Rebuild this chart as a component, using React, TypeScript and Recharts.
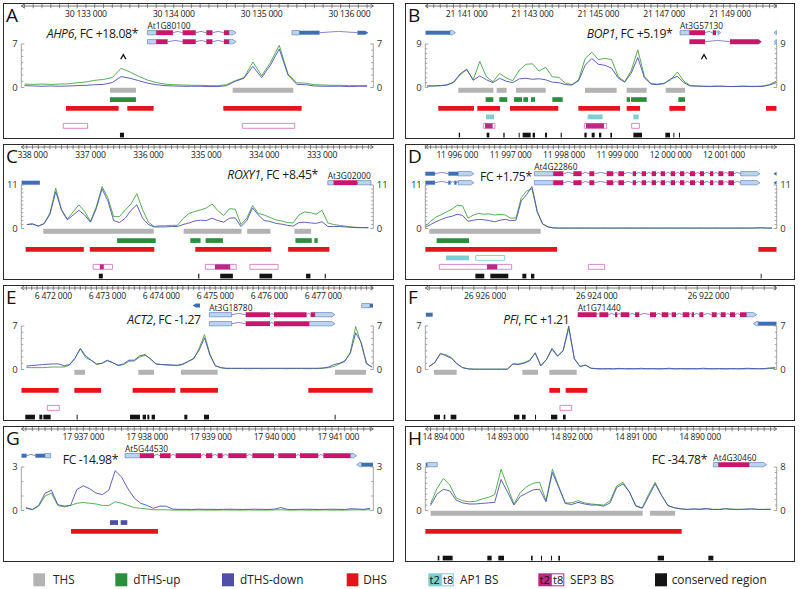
import React from "react";
import {
  ComposedChart,
  Line,
  XAxis,
  YAxis,
  ReferenceArea,
  ReferenceLine,
  ReferenceDot,
} from "recharts";

type Span = [number, number];
type Exon = [number, number, string, string?];
type Gene = { row: number; exons: Exon[]; label?: string };

// ---------------- A : AHP6 ----------------
const A_RANGE: Span = [30132264, 30136271];
const A_TICKS = [30133000, 30134000, 30135000, 30136000];
const A_COV_START = 30132300;
const A_COV_STEP = 100;
const A_GREEN = [
  0.55, 0.5, 0.55, 0.5, 0.55, 0.6, 0.75, 0.9, 1.15, 1.3,
  1.6, 3.1, 2.5, 1.8, 1.2, 0.8, 0.55, 0.45, 0.4, 0.35,
  0.35, 0.3, 0.3, 0.45, 1.1, 1.6, 4.1, 1.9, 4.0, 6.8,
  2.2, 0.75, 0.7, 0.45, 0.4, 0.35, 0.35, 0.3, 0.3, 0.3,
];
const A_BLUE = [
  0.3, 0.25, 0.2, 0.25, 0.2, 0.25, 0.3, 0.35, 0.45, 0.5,
  0.8, 1.75, 1.5, 1.1, 0.7, 0.45, 0.3, 0.25, 0.2, 0.2,
  0.2, 0.15, 0.15, 0.3, 1.0, 1.5, 3.4, 1.6, 3.6, 6.2,
  2.0, 0.5, 0.45, 0.25, 0.2, 0.2, 0.2, 0.15, 0.2, 0.2,
];
const A_THS: Span[] = [[30133273, 30133569], [30134670, 30135360]];
const A_UP: Span[] = [[30133273, 30133569]];
const A_DHS: Span[] = [[30132772, 30133372], [30133471, 30133770], [30134564, 30135455]];
const A_SEP3_OPEN: Span[] = [[30132742, 30133019], [30134780, 30135376]];
const A_CONS: Span[] = [[30133387, 30133433]];
const A_CARETS = [30133425];
const A_GENES: Gene[] = [
  { row: 1, label: "At1G80100", exons: [[30133700, 30133800, "u"], [30133800, 30133990, "c"], [30134100, 30134250, "c"], [30134370, 30134440, "c"], [30134570, 30134630, "c"], [30134630, 30134710, "u", "R"]] },
  { row: 2, exons: [[30133700, 30133800, "u"], [30133800, 30133930, "c"], [30134100, 30134250, "c"], [30134370, 30134440, "c"], [30134570, 30134630, "c"], [30134630, 30134710, "u", "R"]] },
  { row: 1, exons: [[30135345, 30135430, "u"], [30135430, 30135660, "o"], [30136090, 30136215, "o", "R"]] },
];

// ---------------- B : BOP1 ----------------
const B_RANGE: Span = [21139744, 21150418];
const B_TICKS = [21141000, 21143000, 21145000, 21147000, 21149000];
const B_COV_START = 21139800;
const B_COV_STEP = 200;
const B_GREEN = [
  0.3, 0.3, 0.35, 0.5, 1.0, 2.6, 3.7, 1.6, 5.4, 2.2,
  1.2, 2.9, 2.0, 1.4, 3.6, 4.8, 4.9, 3.4, 4.2, 2.2,
  2.1, 0.9, 0.6, 1.6, 6.0, 7.3, 5.8, 6.0, 5.8, 2.3,
  1.2, 3.5, 7.8, 2.3, 0.8, 0.7, 0.9, 1.6, 3.2, 1.3,
  0.4, 0.3, 0.25, 0.25, 0.3, 0.25, 0.2, 0.25, 0.3, 0.25,
  0.25, 0.3, 0.6, 1.3,
];
const B_BLUE = [
  0.3, 0.35, 0.4, 0.55, 1.1, 2.8, 3.8, 1.5, 2.4, 1.6,
  1.0, 1.9, 1.3, 1.0, 1.8, 1.9, 1.7, 1.8, 1.6, 1.1,
  1.0, 0.6, 0.5, 1.4, 4.6, 6.0, 4.8, 4.6, 4.0, 2.0,
  1.1, 3.0, 6.2, 2.0, 0.7, 0.6, 0.8, 1.8, 2.3, 1.0,
  0.3, 0.3, 0.25, 0.2, 0.25, 0.25, 0.2, 0.2, 0.25, 0.2,
  0.2, 0.25, 0.5, 1.0,
];
const B_THS: Span[] = [[21140747, 21141810], [21141911, 21142215], [21142499, 21143400], [21144595, 21145557], [21145861, 21146469], [21147046, 21147633]];
const B_UP: Span[] = [[21141577, 21141810], [21141992, 21142235], [21142438, 21142681], [21142722, 21142863], [21142955, 21143076], [21143603, 21143917], [21145861, 21145962], [21145993, 21146469], [21147431, 21147633]];
const B_DHS: Span[] = [[21140139, 21141223], [21141324, 21142013], [21142317, 21143785], [21144393, 21145658], [21145861, 21146266], [21147157, 21147643], [21150094, 21150410]];
const B_AP1: Span[] = [[21141587, 21141830], [21144676, 21145132], [21146064, 21146226]];
const B_SEP3_OPEN: Span[] = [[21141506, 21141861], [21144575, 21145253], [21146013, 21146246]];
const B_SEP3: Span[] = [[21141557, 21141790], [21144625, 21145172]];
const B_CONS: Span[] = [[21140760, 21140800], [21141608, 21141689], [21142114, 21142154], [21142580, 21142610], [21142701, 21142944], [21143005, 21143076], [21143380, 21143441], [21143856, 21143890], [21144575, 21144646], [21144798, 21144889], [21145020, 21145091], [21145365, 21145415], [21146064, 21146327], [21147036, 21147177], [21147279, 21147309], [21147451, 21147481]];
const B_CARETS = [21148210];
const B_GENES: Gene[] = [
  { row: 1, exons: [[21139750, 21140494, "o"], [21140494, 21140660, "u", "R"]] },
  { row: 1, label: "At3G57130", exons: [[21147481, 21147765, "u"], [21147765, 21148241, "c"], [21148474, 21148575, "c"], [21148640, 21148717, "u", "R"]] },
  { row: 2, exons: [[21147765, 21148241, "c"], [21149000, 21149962, "c", "R"]] },
  { row: 1, exons: [[21150337, 21150410, "u", "L"]] },
  { row: 2, exons: [[21150337, 21150410, "u", "L"]] },
];

// ---------------- C : ROXY1 (reverse strand) ----------------
const C_RANGE: Span = [332115, 338195];
const C_TICKS = [333000, 334000, 335000, 336000, 337000, 338000];
const C_COV_START = 338100;
const C_COV_STEP = -100;
const C_GREEN = [
  1.0, 1.2, 0.6, 1.3, 3.9, 10.2, 4.8, 2.4, 4.2, 6.0,
  4.3, 1.8, 5.5, 10.6, 7.8, 3.0, 3.0, 4.7, 6.2, 8.8,
  4.8, 1.6, 0.5, 0.7, 0.7, 0.8, 0.8, 2.5, 3.8, 4.3,
  4.7, 5.2, 6.2, 4.5, 3.3, 5.0, 4.9, 1.0, 2.6, 5.8,
  3.8, 3.4, 2.8, 2.2, 1.9, 1.5, 1.4, 3.4, 4.2, 4.0,
  3.6, 4.6, 1.4, 1.0, 0.8, 0.6, 0.4, 0.3, 0.25, 0.2,
];
const C_BLUE = [
  1.0, 1.1, 0.6, 1.2, 3.6, 9.3, 4.6, 2.2, 3.4, 4.6,
  3.4, 1.6, 5.0, 10.0, 7.0, 2.0, 1.5, 2.6, 4.6, 6.0,
  2.6, 1.0, 0.4, 0.4, 0.4, 0.5, 0.5, 1.0, 1.4, 1.9,
  2.1, 2.0, 2.6, 2.0, 1.6, 2.6, 2.7, 0.5, 2.0, 5.2,
  3.4, 2.0, 1.8, 1.3, 1.1, 0.8, 0.6, 1.5, 1.6, 1.4,
  1.3, 1.7, 0.5, 0.5, 0.5, 0.4, 0.3, 0.2, 0.2, 0.2,
];
const C_THS: Span[] = [[337816, 335908], [335391, 334391], [334293, 333891], [333477, 333190]];
const C_UP: Span[] = [[336540, 335874], [335276, 335098], [335012, 334713], [333460, 333178], [333132, 333075]];
const C_DHS: Span[] = [[338121, 337115], [337012, 335897], [335190, 333879], [333586, 332874]];
const C_SEP3_OPEN: Span[] = [[336954, 336621], [335017, 334483], [334247, 333759]];
const C_SEP3: Span[] = [[336839, 336770], [334851, 334586]];
const C_CONS: Span[] = [[336856, 336787], [335140, 335120], [334759, 334540], [334081, 333862], [333276, 333201], [332954, 332935]];
const C_GENES: Gene[] = [
  { row: 2, exons: [[338190, 337874, "o"]] },
  { row: 2, label: "At3G02000", exons: [[332902, 332799, "u"], [332799, 332385, "c"], [332385, 332155, "u"]] },
];

// ---------------- D ----------------
const D_RANGE: Span = [11995400, 12001988];
const D_TICKS = [11996000, 11997000, 11998000, 11999000, 12000000, 12001000];
const D_COV_START = 11995400;
const D_COV_STEP = 100;
const D_GREEN = [
  0.6, 1.8, 2.9, 3.5, 4.2, 4.9, 5.9, 5.7, 2.6, 3.4,
  3.8, 3.6, 3.7, 3.4, 3.6, 3.4, 2.6, 2.7, 7.8, 9.5,
  10.0, 4.0, 1.2, 0.4, 0.15, 0.12, 0.12, 0.1, 0.1, 0.12,
  0.1, 0.12, 0.1, 0.1, 0.12, 0.1, 0.1, 0.1, 0.12, 0.1,
  0.1, 0.12, 0.1, 0.1, 0.1, 0.12, 0.1, 0.1, 0.12, 0.1,
  0.1, 0.1, 0.12, 0.1, 0.1, 0.12, 0.1, 0.1, 0.1, 0.12,
  0.1, 0.12, 0.15, 0.2, 0.12, 0.1,
];
const D_BLUE = [
  0.3, 1.0, 1.7, 2.3, 2.8, 3.1, 3.6, 3.3, 1.8, 2.1,
  2.3, 2.2, 2.0, 1.7, 2.1, 2.3, 2.0, 2.1, 7.0, 8.6,
  10.6, 4.3, 1.1, 0.4, 0.15, 0.1, 0.1, 0.1, 0.1, 0.1,
  0.1, 0.1, 0.1, 0.1, 0.1, 0.1, 0.1, 0.1, 0.1, 0.1,
  0.1, 0.1, 0.1, 0.1, 0.1, 0.1, 0.1, 0.1, 0.1, 0.1,
  0.1, 0.1, 0.1, 0.1, 0.1, 0.1, 0.1, 0.1, 0.1, 0.1,
  0.1, 0.1, 0.12, 0.15, 0.1, 0.1,
];
const D_THS: Span[] = [[11995475, 11997563]];
const D_UP: Span[] = [[11995612, 11996219]];
const D_DHS: Span[] = [[11995400, 11997869], [12001644, 12001985]];
const D_AP1: Span[] = [[11995787, 11996219]];
const D_AP1_OPEN: Span[] = [[11996344, 11996888]];
const D_SEP3_OPEN: Span[] = [[11995662, 11997019], [11998456, 11998763]];
const D_SEP3: Span[] = [[11996556, 11996750]];
const D_CONS: Span[] = [[11996338, 11996506], [11996619, 11996956], [11997219, 11997294], [11997381, 11997444], [12001688, 12001705]];
const D_MAIN: Exon[] = [
  [11997444, 11997800, "u"], [11997800, 11997988, "c"], [11998175, 11998331, "c"], [11998475, 11998569, "c"],
  [11998800, 11998925, "c"], [11999019, 11999125, "c"], [11999288, 11999350, "c"], [11999456, 11999538, "c"],
  [11999644, 11999725, "c"], [11999813, 11999894, "c"], [12000000, 12000081, "c"], [12000175, 12000256, "c"],
  [12000363, 12000456, "c"], [12000550, 12000625, "c"], [12000738, 12000800, "c"], [12000894, 12000988, "c"],
  [12001081, 12001188, "c"], [12001313, 12001675, "u", "R"],
];
const D_GENES: Gene[] = [
  { row: 1, exons: [[11995400, 11995581, "o"], [11995831, 11996019, "o"], [11996019, 11996313, "u", "R"]] },
  { row: 2, exons: [[11995400, 11995581, "o"], [11995831, 11995875, "o"], [11995944, 11995987, "o"], [11996019, 11996313, "u", "R"]] },
  { row: 1, label: "At4G22860", exons: D_MAIN },
  { row: 2, exons: D_MAIN },
  { row: 1, exons: [[12001925, 12001985, "o", "L"]] },
  { row: 2, exons: [[12001925, 12001985, "o", "L"]] },
];

// ---------------- E : ACT2 ----------------
const E_RANGE: Span = [6471407, 6477926];
const E_TICKS = [6472000, 6473000, 6474000, 6475000, 6476000, 6477000];
const E_COV_START = 6471500;
const E_COV_STEP = 100;
const E_GREEN = [
  0.3, 0.3, 0.3, 0.3, 0.35, 0.4, 0.4, 0.4, 0.7, 1.8,
  3.3, 1.9, 1.5, 0.8, 1.0, 1.4, 1.1, 0.6, 0.8, 1.3,
  1.4, 2.0, 2.3, 1.7, 0.9, 0.8, 0.7, 0.7, 0.6, 0.8,
  1.3, 1.7, 3.4, 5.6, 2.5, 0.6, 0.3, 0.15, 0.15, 0.15,
  0.15, 0.12, 0.15, 0.15, 0.12, 0.15, 0.15, 0.15, 0.12, 0.15,
  0.15, 0.15, 0.12, 0.15, 0.15, 0.2, 0.3, 0.5, 0.9, 1.3,
  2.8, 6.9, 4.2, 0.9, 0.4,
];
const E_BLUE = [
  0.55, 0.65, 0.7, 0.8, 0.85, 0.9, 0.9, 0.6, 0.8, 1.8,
  3.4, 2.2, 1.5, 0.9, 1.0, 1.5, 1.1, 0.7, 0.9, 1.5,
  1.5, 2.2, 2.4, 1.7, 0.9, 0.8, 0.8, 0.7, 0.7, 0.9,
  1.3, 1.8, 3.1, 5.1, 2.3, 0.6, 0.3, 0.2, 0.2, 0.2,
  0.2, 0.2, 0.2, 0.2, 0.2, 0.2, 0.2, 0.2, 0.2, 0.2,
  0.2, 0.2, 0.2, 0.2, 0.2, 0.25, 0.4, 0.8, 1.0, 1.4,
  2.6, 5.9, 4.4, 1.0, 0.4,
];
const E_THS: Span[] = [[6472389, 6472586], [6473574, 6473864], [6474364, 6475043], [6477216, 6477790]];
const E_DHS: Span[] = [[6471410, 6472099], [6472389, 6472883], [6473469, 6474259], [6474352, 6475049], [6476722, 6477914]];
const E_SEP3_OPEN: Span[] = [[6471889, 6472111]];
const E_CONS: Span[] = [[6471481, 6471660], [6471741, 6471796], [6471815, 6471951], [6472432, 6472451], [6473420, 6473605], [6473654, 6473716], [6473741, 6473778], [6473821, 6473883], [6474426, 6474482], [6474790, 6474883], [6477210, 6477228]];
const E_GENES: Gene[] = [
  { row: 0, exons: [[6474580, 6474716, "o", "L"]] },
  { row: 1, label: "At3G18780", exons: [[6474889, 6475303, "u"], [6475562, 6476012, "c"], [6476086, 6476691, "c"], [6476765, 6476846, "c"], [6476846, 6477216, "u", "R"]] },
  { row: 2, exons: [[6474889, 6475303, "u"], [6475562, 6476012, "c"], [6476086, 6476741, "c"], [6476741, 6477216, "u", "R"]] },
  { row: 0, exons: [[6477710, 6477864, "u"], [6477864, 6477920, "o"]] },
];

// ---------------- F : PFI (reverse strand) ----------------
const F_RANGE: Span = [26920776, 26927069];
const F_TICKS = [26922000, 26924000, 26926000];
const F_COV_START = 26927000;
const F_COV_STEP = -100;
const F_GREEN = [
  0.5, 1.1, 2.5, 2.4, 1.9, 0.9, 0.3, 0.1, 0.05, 0.05,
  0.05, 0.05, 0.05, 0.05, 0.05, 0.9, 0.9, 1.1, 1.5, 2.6,
  0.6, 1.6, 3.2, 2.1, 3.0, 6.6, 1.8, 0.5, 0.7, 0.2,
  0.1, 0.08, 0.1, 0.08, 0.1, 0.1, 0.08, 0.1, 0.08, 0.1,
  0.1, 0.08, 0.1, 0.1, 0.08, 0.1, 0.1, 0.08, 0.1, 0.1,
  0.08, 0.1, 0.1, 0.08, 0.1, 0.1, 0.08, 0.1, 0.1, 0.12,
  0.1, 0.15, 0.2,
];
const F_BLUE = [
  0.5, 1.1, 2.6, 2.2, 1.8, 0.9, 0.3, 0.1, 0.05, 0.05,
  0.05, 0.05, 0.05, 0.05, 0.05, 0.9, 0.8, 1.0, 1.4, 2.7,
  0.6, 1.6, 3.4, 2.2, 3.1, 7.0, 1.7, 0.5, 0.7, 0.2,
  0.15, 0.12, 0.15, 0.12, 0.18, 0.12, 0.15, 0.12, 0.2, 0.12,
  0.15, 0.12, 0.15, 0.2, 0.12, 0.15, 0.12, 0.15, 0.12, 0.2,
  0.15, 0.12, 0.15, 0.12, 0.15, 0.12, 0.15, 0.2, 0.15, 0.12,
  0.15, 0.25, 0.3,
];
const F_THS: Span[] = [[26926913, 26926507], [26925331, 26925051], [26924848, 26924358]];
const F_DHS: Span[] = [[26924848, 26924657], [26924555, 26924167]];
const F_SEP3_OPEN: Span[] = [[26924657, 26924448]];
const F_CONS: Span[] = [[26926913, 26926806], [26926740, 26926710], [26926615, 26926513], [26925481, 26925385], [26925337, 26925272], [26925104, 26925086], [26924818, 26924705], [26924603, 26924555]];
const F_GENES: Gene[] = [
  { row: 1, exons: [[26927060, 26926937, "o"]] },
  {
    row: 1, label: "At1G71440", exons: [
      [26924340, 26924000, "c"], [26923952, 26923791, "c"], [26923672, 26923630, "c"], [26923570, 26923415, "c"],
      [26923313, 26923236, "c"], [26923045, 26922937, "c"], [26922836, 26922716, "c"], [26922657, 26922579, "c"],
      [26922460, 26922340, "c"], [26922299, 26922257, "c"], [26922161, 26922090, "c"], [26921940, 26921851, "c"],
      [26921779, 26921690, "c"], [26921612, 26921522, "c"], [26921433, 26921314, "c"], [26921314, 26921134, "u", "R"],
    ],
  },
  { row: 2, exons: [[26921194, 26921105, "u", "L"], [26921105, 26920780, "o"]] },
];

// ---------------- G ----------------
const G_RANGE: Span = [17936027, 17941549];
const G_TICKS = [17937000, 17938000, 17939000, 17940000, 17941000];
const G_COV_START = 17936100;
const G_COV_STEP = 100;
const G_GREEN = [
  0.15, 0.05, 0.3, 1.0, 1.2, 0.35, 0.25, 0.35, 0.5, 0.55,
  0.5, 0.45, 0.35, 0.35, 0.6, 0.5, 0.35, 0.2, 0.15, 0.1,
  0.05, 0.05, 0.05, 0.03, 0.03, 0.03, 0.03, 0.04, 0.03, 0.03,
  0.03, 0.04, 0.03, 0.03, 0.03, 0.04, 0.03, 0.03, 0.03, 0.04,
  0.05, 0.03, 0.03, 0.04, 0.03, 0.03, 0.03, 0.04, 0.03, 0.03,
  0.03, 0.04, 0.05, 0.04, 0.05,
];
const G_BLUE = [
  0.2, 0.07, 0.35, 1.2, 1.4, 0.4, 0.3, 0.35, 1.45, 1.7,
  1.5, 1.2, 1.1, 1.4, 2.75, 2.3, 1.5, 0.85, 0.5, 0.35,
  0.15, 0.3, 0.3, 0.1, 0.08, 0.08, 0.07, 0.09, 0.08, 0.08,
  0.07, 0.08, 0.09, 0.08, 0.07, 0.08, 0.09, 0.08, 0.07, 0.1,
  0.2, 0.08, 0.07, 0.08, 0.09, 0.08, 0.07, 0.08, 0.09, 0.08,
  0.07, 0.12, 0.1, 0.08, 0.15,
];
const G_DOWN: Span[] = [[17937418, 17937544], [17937586, 17937690]];
const G_DHS: Span[] = [[17936807, 17938171]];
const G_GENES: Gene[] = [
  { row: 1, exons: [[17936030, 17936111, "o"], [17936247, 17936399, "o"], [17936399, 17936488, "u"]] },
  {
    row: 1, label: "At5G44530", exons: [
      [17937654, 17937889, "u"], [17937889, 17938109, "c"], [17938203, 17938370, "c"], [17938448, 17938846, "c"],
      [17938924, 17939024, "c"], [17939107, 17939186, "c"], [17939275, 17939562, "c"], [17939651, 17939991, "c"],
      [17940059, 17940336, "c"], [17940399, 17940686, "c"], [17940765, 17941194, "c"], [17941194, 17941288, "u", "R"],
    ],
  },
  { row: 2, exons: [[17941288, 17941366, "u", "L"], [17941366, 17941545, "o"]] },
];

// ---------------- H (reverse strand) ----------------
const H_RANGE: Span = [14888805, 14894281];
const H_TICKS = [14890000, 14891000, 14892000, 14893000, 14894000];
const H_COV_START = 14894200;
const H_COV_STEP = -100;
const H_GREEN = [
  1.2, 4.0, 5.9, 4.7, 2.3, 1.8, 1.6, 1.7, 2.1, 2.4,
  2.9, 7.6, 4.4, 1.2, 3.3, 4.4, 5.0, 5.2, 1.8, 7.6,
  4.4, 1.4, 1.4, 1.8, 1.4, 1.2, 1.1, 1.0, 1.8, 4.5,
  5.2, 3.4, 0.9, 0.5, 3.0, 5.2, 2.8, 0.9, 0.5, 0.3,
  0.2, 0.25, 0.2, 0.3, 0.2, 0.2, 0.35, 0.25, 0.2, 0.2,
  0.3, 0.2, 0.2, 0.25,
];
const H_BLUE = [
  0.9, 3.0, 3.9, 3.6, 1.9, 1.4, 1.2, 1.2, 1.3, 1.4,
  1.5, 5.7, 3.4, 1.0, 2.6, 3.2, 3.8, 3.9, 1.6, 7.0,
  4.2, 1.3, 1.1, 1.5, 1.2, 1.0, 1.0, 0.8, 1.4, 4.2,
  4.9, 3.4, 0.8, 0.4, 2.6, 4.9, 2.8, 0.9, 0.5, 0.3,
  0.2, 0.3, 0.25, 0.35, 0.2, 0.2, 0.3, 0.2, 0.2, 0.25,
  0.3, 0.2, 0.2, 0.2,
];
const H_THS: Span[] = [[14894197, 14890893], [14890779, 14890389]];
const H_DHS: Span[] = [[14894280, 14890286]];
const H_CONS: Span[] = [[14894088, 14894062], [14894010, 14893855], [14893314, 14893247], [14893143, 14893055], [14892634, 14892608], [14892478, 14892462], [14892322, 14892306], [14892208, 14892182], [14890660, 14890561], [14889870, 14889792]];
const H_GENES: Gene[] = [
  { row: 2, exons: [[14894275, 14894250, "o"], [14894250, 14894094, "u"]] },
  { row: 2, label: "At4G30460", exons: [[14889792, 14889714, "u"], [14889714, 14889231, "c"], [14889231, 14888961, "u", "R"]] },
];

// ---------------- layout & style ----------------
const FONT = "'Open Sans', 'Noto Sans', 'DejaVu Sans', sans-serif";
const PANEL_H = 136;
const PLOT_TOP = 3;
const PLOT_BOTTOM = 135;
const MAX_Y = 41;
const ZERO_Y = 84.5;
const GENE_ROW_Y = [20.6, 29.7, 38.7];
const TRACK: Record<string, Span> = {
  ths: [84.8, 89.8],
  dths: [94.2, 98.9],
  dhs: [103, 107.8],
  ap1: [111.5, 116.3],
  sep3: [120.4, 125.3],
  cons: [129.7, 134.4],
};
const COL = {
  green: "#45a545",
  blue: "#4f4fb2",
  ths: "#b3b3b3",
  up: "#2b8e3c",
  down: "#4f4fa6",
  dhs: "#e4141c",
  ap1: "#7fcdd5",
  sep3: "#bc2a86",
  sep3Line: "#d77cbc",
  cons: "#141414",
  utr: "#bcd5ee",
  utrLine: "#5379b3",
  cds: "#c8166a",
  other: "#3e6fb5",
  intron: "#6a6ac2",
};

type PanelDef = {
  letter: string; x: number; y: number; side: "L" | "R";
  range: Span; reversed: boolean; ticks: number[]; minorStep: number; yMax: number;
  covStart: number; covStep: number; green: number[]; blue: number[];
  ths: Span[]; up: Span[]; down: Span[]; dhs: Span[]; ap1: Span[]; ap1Open: Span[];
  sep3: Span[]; sep3Open: Span[]; cons: Span[]; genes: Gene[]; carets: number[];
  gene: string; fc: string; titleX: number; titleY: number;
};

const PANELS: PanelDef[] = [
  { letter: "A", x: 3, y: 3, side: "L", range: A_RANGE, reversed: false, ticks: A_TICKS, minorStep: 100, yMax: 7, covStart: A_COV_START, covStep: A_COV_STEP, green: A_GREEN, blue: A_BLUE, ths: A_THS, up: A_UP, down: [], dhs: A_DHS, ap1: [], ap1Open: [], sep3: [], sep3Open: A_SEP3_OPEN, cons: A_CONS, genes: A_GENES, carets: A_CARETS, gene: "AHP6", fc: ", FC +18.08*", titleX: 43.7, titleY: 35.3 },
  { letter: "B", x: 405, y: 3, side: "R", range: B_RANGE, reversed: false, ticks: B_TICKS, minorStep: 200, yMax: 9, covStart: B_COV_START, covStep: B_COV_STEP, green: B_GREEN, blue: B_BLUE, ths: B_THS, up: B_UP, down: [], dhs: B_DHS, ap1: B_AP1, ap1Open: [], sep3: B_SEP3, sep3Open: B_SEP3_OPEN, cons: B_CONS, genes: B_GENES, carets: B_CARETS, gene: "BOP1", fc: ", FC +5.19*", titleX: 181.7, titleY: 35.3 },
  { letter: "C", x: 3, y: 144, side: "L", range: C_RANGE, reversed: true, ticks: C_TICKS, minorStep: 100, yMax: 11, covStart: C_COV_START, covStep: C_COV_STEP, green: C_GREEN, blue: C_BLUE, ths: C_THS, up: C_UP, down: [], dhs: C_DHS, ap1: [], ap1Open: [], sep3: C_SEP3, sep3Open: C_SEP3_OPEN, cons: C_CONS, genes: C_GENES, carets: [], gene: "ROXY1", fc: ", FC +8.45*", titleX: 224.3, titleY: 35 },
  { letter: "D", x: 405, y: 144, side: "R", range: D_RANGE, reversed: false, ticks: D_TICKS, minorStep: 100, yMax: 11, covStart: D_COV_START, covStep: D_COV_STEP, green: D_GREEN, blue: D_BLUE, ths: D_THS, up: D_UP, down: [], dhs: D_DHS, ap1: D_AP1, ap1Open: D_AP1_OPEN, sep3: D_SEP3, sep3Open: D_SEP3_OPEN, cons: D_CONS, genes: D_GENES, carets: [], gene: "", fc: "FC +1.75*", titleX: 75, titleY: 36.5 },
  { letter: "E", x: 3, y: 285, side: "L", range: E_RANGE, reversed: false, ticks: E_TICKS, minorStep: 100, yMax: 7, covStart: E_COV_START, covStep: E_COV_STEP, green: E_GREEN, blue: E_BLUE, ths: E_THS, up: [], down: [], dhs: E_DHS, ap1: [], ap1Open: [], sep3: [], sep3Open: E_SEP3_OPEN, cons: E_CONS, genes: E_GENES, carets: [], gene: "ACT2", fc: ", FC -1.27", titleX: 124.3, titleY: 38.5 },
  { letter: "F", x: 405, y: 285, side: "R", range: F_RANGE, reversed: true, ticks: F_TICKS, minorStep: 200, yMax: 7, covStart: F_COV_START, covStep: F_COV_STEP, green: F_GREEN, blue: F_BLUE, ths: F_THS, up: [], down: [], dhs: F_DHS, ap1: [], ap1Open: [], sep3: [], sep3Open: F_SEP3_OPEN, cons: F_CONS, genes: F_GENES, carets: [], gene: "PFI", fc: ", FC +1.21", titleX: 98.3, titleY: 38.5 },
  { letter: "G", x: 3, y: 426, side: "L", range: G_RANGE, reversed: false, ticks: G_TICKS, minorStep: 100, yMax: 3, covStart: G_COV_START, covStep: G_COV_STEP, green: G_GREEN, blue: G_BLUE, ths: [], up: [], down: G_DOWN, dhs: G_DHS, ap1: [], ap1Open: [], sep3: [], sep3Open: [], cons: [], genes: G_GENES, carets: [], gene: "", fc: "FC -14.98*", titleX: 59.7, titleY: 37.5 },
  { letter: "H", x: 405, y: 426, side: "R", range: H_RANGE, reversed: true, ticks: H_TICKS, minorStep: 100, yMax: 8, covStart: H_COV_START, covStep: H_COV_STEP, green: H_GREEN, blue: H_BLUE, ths: H_THS, up: [], down: [], dhs: H_DHS, ap1: [], ap1Open: [], sep3: [], sep3Open: [], cons: H_CONS, genes: H_GENES, carets: [], gene: "", fc: "FC -34.78*", titleX: 246.7, titleY: 37.5 },
];

function fmt(v: number) {
  return String(v).replace(/\B(?=(\d{3})+(?!\d))/g, " ");
}

function RulerTick(props: any) {
  const { x, y, payload, majors } = props;
  const major = majors.indexOf(payload.value) >= 0;
  return (
    <g>
      <line x1={x} x2={x} y1={y - 2.2} y2={y + 2.2} stroke="#555" strokeWidth={0.7} />
      {major && (
        <text x={x} y={y + 10.8} textAnchor="middle" fontSize={8.6} letterSpacing={-0.2} fill="#222" fontFamily={FONT}>
          {fmt(payload.value)}
        </text>
      )}
    </g>
  );
}

function CovTick(props: any) {
  const { x, y, payload, side, max } = props;
  const v = payload.value;
  const inward = side === "left" ? 1 : -1;
  const labelled = v === 0 || v === max;
  return (
    <g>
      <line x1={x} x2={x + inward * (labelled ? 3 : 2)} y1={y} y2={y} stroke="#8c8c8c" strokeWidth={0.8} />
      {labelled && (
        <text x={x - inward * 3.5} y={y + 3.3} textAnchor={side === "left" ? "end" : "start"} fontSize={9.5} fill="#333" fontFamily={FONT}>
          {v}
        </text>
      )}
    </g>
  );
}

function exonShape(kind: string, tip?: string) {
  return (p: any) => {
    const { x, y, width, height } = p;
    const t = tip ? Math.min(3.2, width) : 0;
    let pts: number[][];
    if (tip === "R") pts = [[x, y], [x + width - t, y], [x + width, y + height / 2], [x + width - t, y + height], [x, y + height]];
    else if (tip === "L") pts = [[x + t, y], [x + width, y], [x + width, y + height], [x + t, y + height], [x, y + height / 2]];
    else pts = [[x, y], [x + width, y], [x + width, y + height], [x, y + height]];
    const fill = kind === "u" ? COL.utr : kind === "c" ? COL.cds : COL.other;
    return (
      <polygon
        points={pts.map((q) => q.join(",")).join(" ")}
        fill={fill}
        stroke={kind === "u" ? COL.utrLine : "none"}
        strokeWidth={0.6}
      />
    );
  };
}

function geneMarks(gene: Gene, key: string) {
  const yc = GENE_ROW_Y[gene.row];
  const out: React.ReactNode[] = [];
  gene.exons.forEach((ex, i) => {
    if (i === 0) return;
    const a = gene.exons[i - 1][1];
    const b = ex[0];
    if (Math.abs(b - a) < 2) return;
    const m = (a + b) / 2;
    out.push(
      <ReferenceLine key={`${key}i${i}a`} yAxisId="trk" segment={[{ x: a, y: yc }, { x: m, y: yc - 1.3 }]} stroke={COL.intron} strokeWidth={0.8} ifOverflow="visible" />,
      <ReferenceLine key={`${key}i${i}b`} yAxisId="trk" segment={[{ x: m, y: yc - 1.3 }, { x: b, y: yc }]} stroke={COL.intron} strokeWidth={0.8} ifOverflow="visible" />
    );
  });
  gene.exons.forEach(([s, e, kind, tip], i) => {
    const h = kind === "c" ? 4.9 : kind === "u" ? 4.3 : 4.0;
    out.push(
      <ReferenceArea key={`${key}e${i}`} yAxisId="trk" x1={s} x2={e} y1={yc - h / 2} y2={yc + h / 2} shape={exonShape(kind, tip)} ifOverflow="visible" />
    );
  });
  if (gene.label) {
    const text = gene.label;
    out.push(
      <ReferenceDot
        key={`${key}lab`}
        yAxisId="trk"
        x={gene.exons[0][0]}
        y={yc - 4}
        r={0}
        ifOverflow="visible"
        shape={(p: any) => (
          <text x={p.cx} y={p.cy} fontSize={8.4} fill="#222" fontFamily={FONT}>
            {text}
          </text>
        )}
      />
    );
  }
  return out;
}

function boxes(list: Span[], row: Span, fill: string, stroke: string | null, key: string) {
  return list.map(([a, b], i) => (
    <ReferenceArea
      key={`${key}${i}`}
      yAxisId="trk"
      x1={a}
      x2={b}
      y1={row[0]}
      y2={row[1]}
      fill={fill}
      fillOpacity={1}
      stroke={stroke ?? "none"}
      strokeWidth={stroke ? 0.9 : 0}
      ifOverflow="visible"
    />
  ));
}

function Panel({ def }: { def: PanelDef }) {
  const w = def.side === "L" ? 391 : 390;
  const margin = def.side === "L" ? { top: 1, right: 6.7, bottom: 1, left: 4.3 } : { top: 1, right: 4.3, bottom: 1, left: 6.3 };
  const rows = def.green.map((g, i) => ({ pos: def.covStart + i * def.covStep, g, b: def.blue[i] }));
  const [lo, hi] = def.range;
  const minor: number[] = [];
  for (let v = Math.ceil(lo / def.minorStep) * def.minorStep; v <= hi; v += def.minorStep) minor.push(v);
  const k = def.yMax / (ZERO_Y - MAX_Y);
  const covDomain = [-(PLOT_BOTTOM - ZERO_Y) * k, def.yMax + (MAX_Y - PLOT_TOP) * k];
  const yTicks = Array.from({ length: def.yMax + 1 }, (_, i) => i);
  const leftEdge = def.reversed ? hi : lo;
  const rightEdge = def.reversed ? lo : hi;

  return (
    <div style={{ position: "absolute", left: def.x, top: def.y, width: w, height: PANEL_H }}>
      <div style={{ position: "absolute", left: 0, top: 0, width: w, height: PANEL_H, border: "1.5px solid #2a2a2a", boxSizing: "border-box" }} />
      <ComposedChart width={w} height={PANEL_H} data={rows} margin={margin}>
        <XAxis
          dataKey="pos"
          type="number"
          orientation="top"
          domain={def.range}
          allowDataOverflow
          reversed={def.reversed}
          ticks={minor}
          interval={0}
          height={2}
          tickSize={0}
          tickMargin={0}
          tickLine={false}
          axisLine={{ stroke: "#555", strokeWidth: 0.8 }}
          tick={(p: any) => <RulerTick {...p} majors={def.ticks} />}
        />
        <YAxis
          yAxisId="cov"
          orientation="left"
          width={14}
          type="number"
          domain={covDomain}
          allowDataOverflow
          ticks={yTicks}
          interval={0}
          tickSize={0}
          tickMargin={0}
          axisLine={false}
          tickLine={false}
          tick={(p: any) => <CovTick {...p} side="left" max={def.yMax} />}
        />
        <YAxis
          yAxisId="covR"
          orientation="right"
          width={14}
          type="number"
          domain={covDomain}
          allowDataOverflow
          ticks={yTicks}
          interval={0}
          tickSize={0}
          tickMargin={0}
          axisLine={false}
          tickLine={false}
          tick={(p: any) => <CovTick {...p} side="right" max={def.yMax} />}
        />
        <YAxis yAxisId="trk" hide type="number" domain={[PLOT_TOP, PLOT_BOTTOM]} reversed allowDataOverflow />

        <ReferenceLine yAxisId="cov" segment={[{ x: leftEdge, y: 0 }, { x: leftEdge, y: def.yMax }]} stroke="#9a9a9a" strokeWidth={0.9} ifOverflow="visible" />
        <ReferenceLine yAxisId="cov" segment={[{ x: rightEdge, y: 0 }, { x: rightEdge, y: def.yMax }]} stroke="#9a9a9a" strokeWidth={0.9} ifOverflow="visible" />
        <ReferenceDot yAxisId="trk" x={leftEdge} y={PLOT_TOP} r={0} ifOverflow="visible"
          shape={(p: any) => <polyline points={`${p.cx + 3},${p.cy - 2} ${p.cx},${p.cy} ${p.cx + 3},${p.cy + 2}`} fill="none" stroke="#555" strokeWidth={0.8} />} />
        <ReferenceDot yAxisId="trk" x={rightEdge} y={PLOT_TOP} r={0} ifOverflow="visible"
          shape={(p: any) => <polyline points={`${p.cx - 3},${p.cy - 2} ${p.cx},${p.cy} ${p.cx - 3},${p.cy + 2}`} fill="none" stroke="#555" strokeWidth={0.8} />} />

        {boxes(def.ths, TRACK.ths, COL.ths, null, "ths")}
        {boxes(def.up, TRACK.dths, COL.up, null, "up")}
        {boxes(def.down, TRACK.dths, COL.down, null, "dn")}
        {boxes(def.dhs, TRACK.dhs, COL.dhs, null, "dhs")}
        {boxes(def.ap1Open, TRACK.ap1, "#ffffff", COL.ap1, "apo")}
        {boxes(def.ap1, TRACK.ap1, COL.ap1, null, "ap")}
        {boxes(def.sep3Open, TRACK.sep3, "#ffffff", COL.sep3Line, "spo")}
        {boxes(def.sep3, TRACK.sep3, COL.sep3, null, "sp")}
        {boxes(def.cons, TRACK.cons, COL.cons, null, "cs")}
        {def.genes.map((g, i) => geneMarks(g, `g${i}`))}
        {def.carets.map((c, i) => (
          <ReferenceDot key={`car${i}`} yAxisId="trk" x={c} y={54} r={0} ifOverflow="visible"
            shape={(p: any) => <polyline points={`${p.cx - 2.6},${p.cy + 2.2} ${p.cx},${p.cy - 2.4} ${p.cx + 2.6},${p.cy + 2.2}`} fill="none" stroke="#111" strokeWidth={1.3} />} />
        ))}

        <Line yAxisId="cov" dataKey="g" type="linear" stroke={COL.green} strokeWidth={0.9} dot={false} isAnimationActive={false} />
        <Line yAxisId="cov" dataKey="b" type="linear" stroke={COL.blue} strokeWidth={0.9} dot={false} isAnimationActive={false} />
      </ComposedChart>
      <svg width={w} height={PANEL_H} style={{ position: "absolute", left: 0, top: 0, pointerEvents: "none" }}>
        <text x={3} y={18.5} fontSize={19} fontFamily={FONT} fill="#111">{def.letter}</text>
        <text x={def.titleX} y={def.titleY} fontSize={12.2} fontStyle="normal" letterSpacing={-0.35} fontFamily={FONT} fill="#1a1a1a">
          {def.gene ? <tspan fontStyle="italic">{def.gene}</tspan> : null}
          <tspan fontStyle="normal">{def.fc}</tspan>
        </text>
      </svg>
    </div>
  );
}

function KeyRow() {
  const t = { fontSize: 11.8, fontFamily: FONT, fill: "#222" };
  return (
    <svg width={800} height={26} style={{ position: "absolute", left: 0, top: 563 }}>
      <rect x={33.3} y={10.3} width={11.7} height={13} fill={COL.ths} />
      <text x={53} y={21.3} {...t}>THS</text>
      <rect x={115.3} y={10.3} width={12} height={13} fill={COL.up} />
      <text x={133.3} y={21.3} {...t}>dTHS-up</text>
      <rect x={222} y={10.3} width={12} height={13} fill={COL.down} />
      <text x={240} y={21.3} {...t}>dTHS-down</text>
      <rect x={346.7} y={10.3} width={11.7} height={13} fill={COL.dhs} />
      <text x={363.3} y={21.3} {...t}>DHS</text>

      <rect x={428.3} y={10.3} width={13.4} height={13} fill={COL.ap1} />
      <rect x={441.7} y={10.8} width={11.6} height={12} fill="#fff" stroke={COL.ap1} strokeWidth={1} />
      <text x={429.6} y={21} fontSize={11} fontFamily={FONT} fill="#111">t2</text>
      <text x={443} y={21} fontSize={11} fontFamily={FONT} fill="#111">t8</text>
      <text x={460} y={21.3} {...t}>AP1 BS</text>

      <rect x={538.3} y={10.3} width={13} height={13} fill={COL.sep3} />
      <rect x={551.3} y={10.8} width={12.5} height={12} fill="#fff" stroke={COL.sep3} strokeWidth={1} />
      <text x={539.5} y={21} fontSize={11} fontFamily={FONT} fill="#111">t2</text>
      <text x={553} y={21} fontSize={11} fontFamily={FONT} fill="#111">t8</text>
      <text x={570} y={21.3} {...t}>SEP3 BS</text>

      <rect x={655} y={10.3} width={12} height={13} fill={COL.cons} />
      <text x={671.7} y={21.3} {...t}>conserved region</text>
    </svg>
  );
}

export default function App() {
  return (
    <div style={{ position: "absolute", left: 0, top: 0, width: 800, height: 589, background: "#fff", fontFamily: FONT }}>
      {PANELS.map((p) => (
        <Panel key={p.letter} def={p} />
      ))}
      <KeyRow />
    </div>
  );
}
